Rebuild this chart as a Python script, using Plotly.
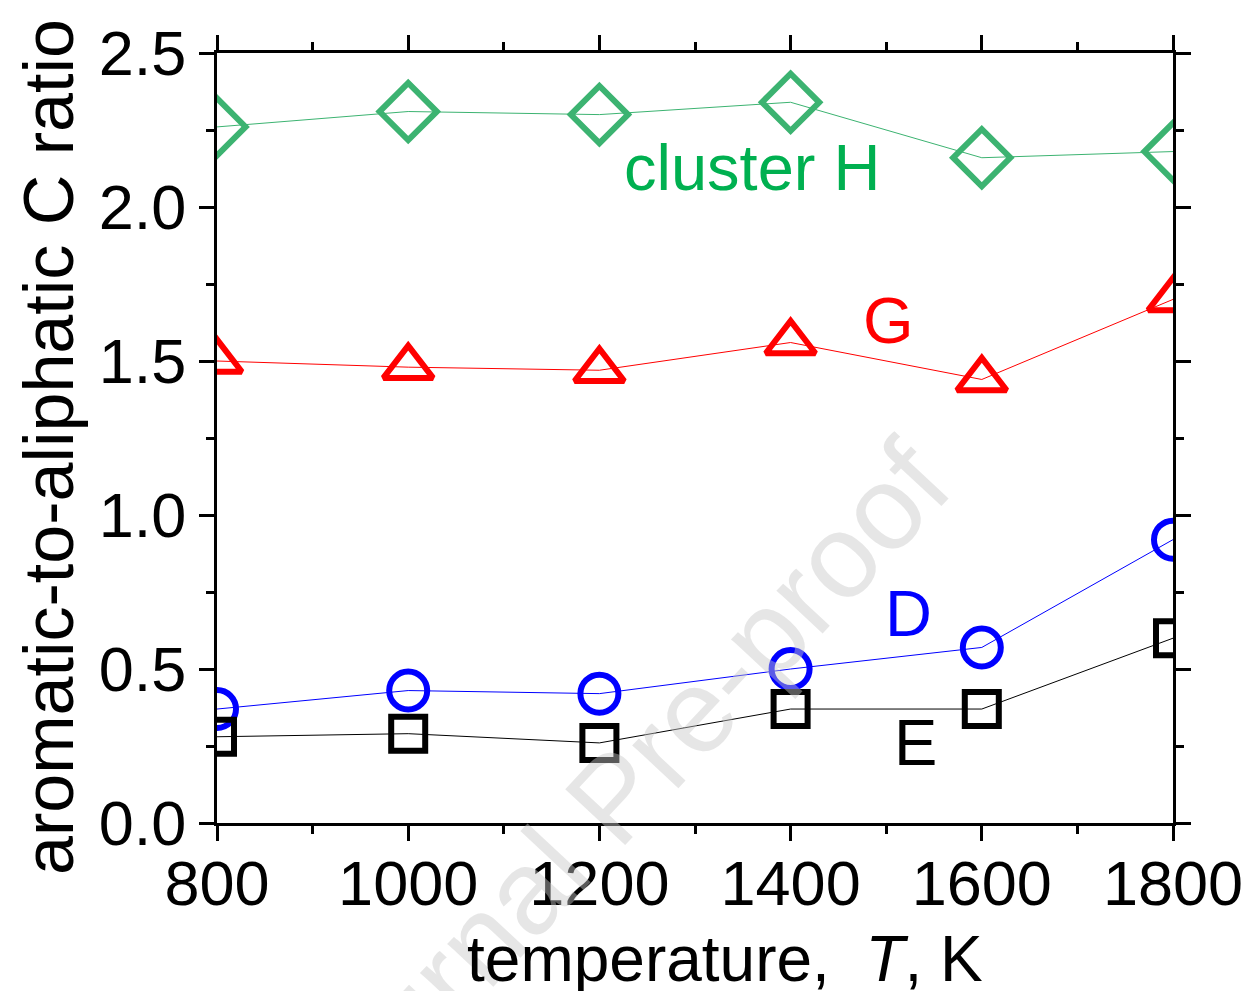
import plotly.graph_objects as go

temperature = [800, 1000, 1200, 1400, 1600, 1800]
cluster_H = [2.26, 2.31, 2.30, 2.34, 2.16, 2.18]
cluster_G = [1.50, 1.48, 1.47, 1.56, 1.44, 1.70]
cluster_D = [0.37, 0.43, 0.42, 0.50, 0.57, 0.92]
cluster_E = [0.28, 0.29, 0.26, 0.37, 0.37, 0.60]

series = [
    ("H", cluster_H, "#3cb371", "diamond-open", 44),
    ("G", cluster_G, "#ff0000", "triangle-up-open", 43),
    ("D", cluster_D, "#0000ff", "circle-open", 38),
    ("E", cluster_E, "#000000", "square-open", 34),
]

labels = [
    ("cluster H", 1360, 2.127, "#00b050"),
    ("G", 1502, 1.633, "#ff0000"),
    ("D", 1523, 0.679, "#0000ff"),
    ("E", 1531, 0.26, "#000000"),
]

fig = go.Figure()

font_family = "Liberation Sans, Arial, sans-serif"

# watermark (drawn first, faint)
fig.add_annotation(xref="paper", yref="paper", x=0.414, y=-0.466, text="Journal Pre-proof",
                   showarrow=False, textangle=-47,
                   font=dict(family=font_family, size=119, color="rgba(200,200,200,0.45)"))

for name, ys, color, sym, size in series:
    fig.add_trace(go.Scatter(
        x=temperature, y=ys, mode="lines+markers", name=name,
        line=dict(color=color, width=1),
        marker=dict(symbol=sym, size=size, color=color, line=dict(color=color, width=6)),
        showlegend=False,
    ))

for text, x, y, color in labels:
    fig.add_annotation(x=x, y=y, text=text, showarrow=False,
                       font=dict(family=font_family, size=65, color=color),
                       xanchor="center", yanchor="middle")

# axis titles
fig.add_annotation(xref="paper", yref="paper", x=0.531, y=-0.176,
                   text="temperature,  <i>T</i>, K", showarrow=False,
                   xanchor="center", yanchor="middle",
                   font=dict(family=font_family, size=64, color="black"))
fig.add_annotation(xref="paper", yref="paper", x=-0.175, y=0.488,
                   text="aromatic-to-aliphatic C ratio", showarrow=False, textangle=-90,
                   xanchor="center", yanchor="middle",
                   font=dict(family=font_family, size=70, color="black"))

axis_common = dict(
    showline=True, linecolor="black", linewidth=3, mirror="allticks",
    ticks="outside", ticklen=15, tickwidth=2.5, tickcolor="black",
    showgrid=False, zeroline=False,
    tickfont=dict(family=font_family, size=63, color="black"),
)

fig.update_xaxes(
    range=[800, 1800], tickvals=[800, 1000, 1200, 1400, 1600, 1800],
    minor=dict(ticks="outside", ticklen=8, tickwidth=2.5, tickcolor="black", dtick=100, tick0=800),
    ticklabelstandoff=-12,
    **axis_common,
)
fig.update_yaxes(
    range=[0, 2.5], tickvals=[0, 0.5, 1.0, 1.5, 2.0, 2.5], tickformat=".1f",
    minor=dict(ticks="outside", ticklen=8, tickwidth=2.5, tickcolor="black", dtick=0.25, tick0=0),
    **axis_common,
)

fig.update_layout(
    width=1249, height=991,
    margin=dict(l=217, r=76, t=53, b=168, autoexpand=False),
    plot_bgcolor="white", paper_bgcolor="white",
)

fig.write_html("out.html")
